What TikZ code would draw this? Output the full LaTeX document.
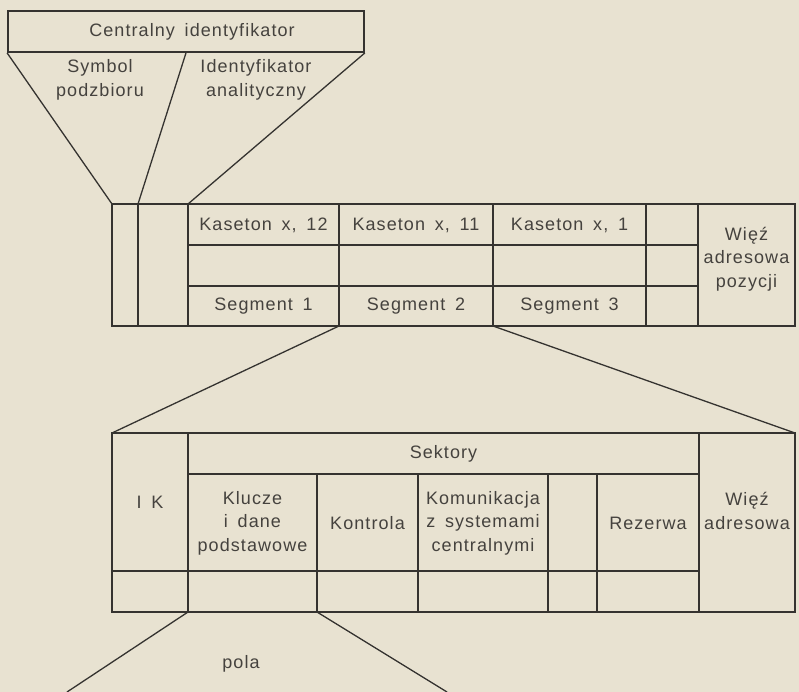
\documentclass[tikz,border=0pt]{standalone}
\usepackage{fontspec}
\setmainfont{Liberation Sans}[LetterSpace=6, WordSpace=1.6]
\definecolor{paper}{HTML}{E8E2D1}
\definecolor{ink}{HTML}{353330}
\definecolor{type}{HTML}{45423E}
\begin{document}
\begin{tikzpicture}[x=1pt, y=-1pt,
  grid/.style={draw=ink, line width=1.8pt},
  link/.style={draw=ink, line width=1.3pt},
  lbl/.style={text=type, font=\fontsize{18}{23.5}\selectfont, inner sep=0pt, align=center},
  hdrbox/.style={draw=ink, line width=1.8pt, minimum width=356pt, minimum height=41pt,
    text=type, font=\fontsize{18}{22}\selectfont, inner sep=0pt}]
\fill[paper] (0,0) rectangle (799,692);
\useasboundingbox (0,0) rectangle (799,692);

% ---- central identifier
\node[hdrbox] (cid) at (186,31.5) {\hspace*{12pt}Centralny identyfikator};
\node[lbl] (sym) at (100,80) {Symbol\\podzbioru};
\node[lbl] (ida) at (256,80) {Identyfikator\\analityczny};

% ---- record of the cassette (middle table)
\coordinate (m-tl) at (112,204);
\coordinate (m-c1) at (138,204);
\coordinate (m-c2) at (188,204);
\coordinate (m-s2) at (339,326);
\coordinate (m-s3) at (493,326);
\draw[grid] (112,204) rectangle (795,326);
\foreach \x in {138,188,339,493,646,698} \draw[grid] (\x,204) -- (\x,326);
\foreach \y in {245,286} \draw[grid] (188,\y) -- (698,\y);

\node[lbl] (k12) at (263.5,225) {Kaseton x, 12};
\node[lbl] (k11) at (416,225) {Kaseton x, 11};
\node[lbl] (k1)  at (569.5,225) {Kaseton x, 1};
\node[lbl] (s1) at (263.5,306) {Segment 1};
\node[lbl] (s2) at (416,306) {Segment 2};
\node[lbl] (s3) at (569.5,306) {Segment 3};
\node[lbl] (wap) at (746.5,259) {Więź\\adresowa\\pozycji};

% ---- segment (lower table)
\coordinate (l-tl) at (112,433);
\coordinate (l-tr) at (795,433);
\coordinate (l-f1) at (188,612);
\coordinate (l-f2) at (317,612);
\draw[grid] (112,433) rectangle (795,612);
\foreach \x in {188,699} \draw[grid] (\x,433) -- (\x,612);
\draw[grid] (188,474) -- (699,474);
\draw[grid] (112,571) -- (699,571);
\foreach \x in {317,418,548,597} \draw[grid] (\x,474) -- (\x,612);

\node[lbl] (sek) at (443.5,454) {Sektory};
\node[lbl] (ik)  at (150,502) {I K};
\node[lbl] (kl)  at (252.5,523) {Klucze\\i dane\\podstawowe};
\node[lbl] (ko)  at (367.5,523) {Kontrola};
\node[lbl] (kom) at (483,523) {Komunikacja\\z systemami\\centralnymi};
\node[lbl] (rez) at (648,523) {Rezerwa};
\node[lbl] (wa)  at (747,511) {Więź\\adresowa};

% ---- fields
\coordinate (p-l) at (67,692);
\coordinate (p-r) at (447,692);
\node[lbl] (pola) at (241,664) {pola};

% ---- expansion lines
\draw[link] (cid.south west) -- (m-tl);
\draw[link] (cid.south) -- (m-c1);
\draw[link] (cid.south east) -- (m-c2);
\draw[link] (m-s2) -- (l-tl);
\draw[link] (m-s3) -- (l-tr);
\draw[link] (l-f1) -- (p-l);
\draw[link] (l-f2) -- (p-r);
\end{tikzpicture}
\end{document}
